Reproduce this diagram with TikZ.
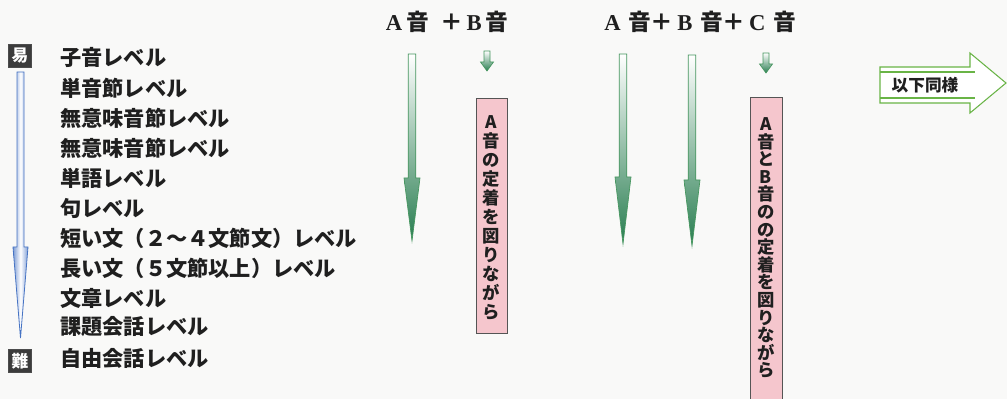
\documentclass[tikz,border=0pt]{standalone}
\usepackage{fontspec}
\newfontfamily\jp{Noto Sans CJK JP}
\newfontfamily\hdlat{Liberation Serif}
\definecolor{bg}{RGB}{249,249,248}
\definecolor{agreen}{RGB}{70,150,95}
\definecolor{dgreen}{RGB}{40,125,80}
\definecolor{mgreen}{RGB}{150,205,165}
\definecolor{pinkbox}{RGB}{245,198,205}
\definecolor{boxline}{RGB}{85,85,85}
\definecolor{bluel}{RGB}{70,115,195}
\definecolor{ygreen}{RGB}{105,180,70}
\definecolor{icon}{RGB}{60,60,60}
\newcommand\greenarrow[6]{%
  \path[garrow] ({#1-#5},#2) -- ({#1+#5},#2) -- ({#1+#5},#3) -- ({#1+#6},#3) -- (#1,#4) -- ({#1-#6},#3) -- ({#1-#5},#3) -- cycle;}
\tikzset{
  garrow/.style={draw=agreen, line width=0.5pt, top color=white, middle color=mgreen, bottom color=dgreen},
  level/.style={anchor=west, inner sep=0pt, font=\jp\bfseries\fontsize{15.9}{17}\selectfont, text=black!88},
  head/.style={inner sep=0pt, font=\jp\bfseries\fontsize{17}{18}\selectfont, text=black!88},
  iconbox/.style={fill=icon, draw=black!70, minimum size=17.5pt, inner sep=0pt, text=white, font=\jp\bfseries\fontsize{12.5}{12.5}\selectfont},
  pinkcol/.style={fill=pinkbox, draw=boxline, line width=0.6pt},
  vtext/.style={align=center, inner sep=0pt, text=black!88},
}
\begin{document}
\begin{tikzpicture}[x=0.75pt,y=-0.75pt]
\useasboundingbox (0,0) rectangle (1007,399);
\fill[bg] (0,0) rectangle (1007,399);

% left difficulty scale
\node[iconbox] (easy) at (20,56) {易};
\node[iconbox] (hard) at (20,361) {難};
\path[draw=bluel, line width=0.6pt, left color=bluel!70!white, right color=bluel!70!white, middle color=white]
  (17,72) -- (24,72) -- (24,247) -- (28,247) -- (20.5,338) -- (13,247) -- (17,247) -- cycle;

\node[level] (l1) at (60,57) {子音レベル};
\node[level] (l2) at (60,88) {単音節レベル};
\node[level] (l3) at (60,118) {無意味音節レベル};
\node[level] (l4) at (60,148) {無意味音節レベル};
\node[level] (l5) at (60,178) {単語レベル};
\node[level] (l6) at (60,208) {句レベル};
\node[level] (l7) at (60,238) {短い文（２～４文節文）レベル};
\node[level] (l8) at (60,268) {長い文（５文節以上）レベル};
\node[level] (l9) at (60,298) {文章レベル};
\node[level] (l10) at (60,327) {課題会話レベル};
\node[level] (l11) at (60,358) {自由会話レベル};

% headers
\node[head] (h1) at (447,22) {{\hdlat A}\,音\enspace＋\,{\hdlat B}\,音};
\node[head] (h2) at (700,22) {{\hdlat A}\,\,音＋\,{\hdlat B}\,\,音＋\,{\hdlat C}\,\,音};

% green arrows
\greenarrow{412}{54}{178}{241}{3.8}{8}
\greenarrow{623}{54}{177}{244}{3.8}{8}
\greenarrow{692}{55}{180}{246}{3.8}{8}
\greenarrow{487}{51}{62}{71}{3}{6.5}
\greenarrow{766}{53}{64}{73}{3}{6.5}

% pink columns
\path[pinkcol] (476,98) rectangle (507,333);
\node[vtext, font=\jp\bfseries\fontsize{13}{14.2}\selectfont] (t1) at (491.5,218)
  {A\\音\\の\\定\\着\\を\\図\\り\\な\\が\\ら};
\path[pinkcol] (750,97) rectangle (782,402);
\node[vtext, font=\jp\bfseries\fontsize{13}{13.2}\selectfont] (t2) at (766,248)
  {A\\音\\と\\B\\音\\の\\の\\定\\着\\を\\図\\り\\な\\が\\ら};

% right hollow arrow
\path[draw=ygreen, line width=0.8pt, fill=white]
  (880,67) -- (970,67) -- (970,53) -- (1006,83) -- (970,113) -- (970,103) -- (880,103) -- cycle;
\draw[ygreen, line width=0.8pt] (880,72) -- (975,72);
\draw[ygreen, line width=0.8pt] (880,98) -- (975,98);
\node[inner sep=0pt, font=\jp\bfseries\fontsize{12.5}{13}\selectfont, text=black!88] (same) at (925,85) {以下同様};
\end{tikzpicture}
\end{document}
